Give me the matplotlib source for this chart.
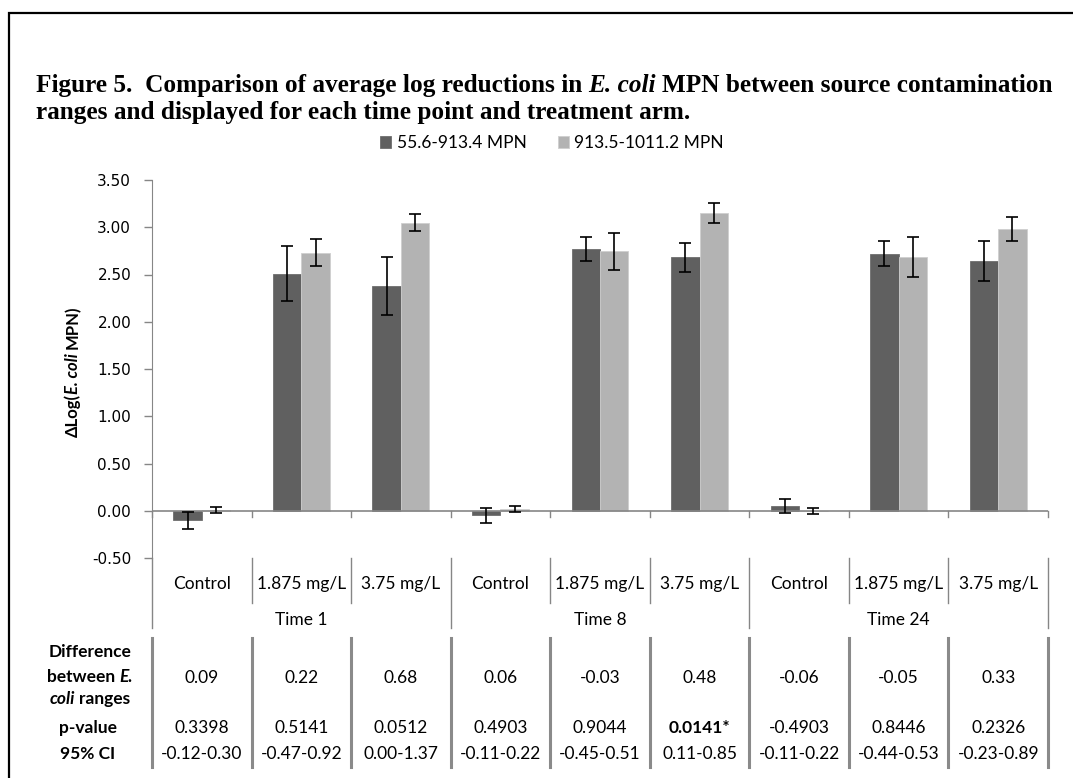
import matplotlib
matplotlib.use("Agg")
import matplotlib.pyplot as plt
from matplotlib.patches import Rectangle

# categories
groups = ["Time 1", "Time 8", "Time 24"]
doses = ["Control", "1.875 mg/L", "3.75 mg/L"]
series_names = ["55.6-913.4 MPN", "913.5-1011.2 MPN"]

# mean log reduction and error for each source range (9 bars each)
low_mean = [-0.10, 2.51, 2.38, -0.05, 2.77, 2.68, 0.05, 2.72, 2.64]
low_err = [0.09, 0.29, 0.31, 0.075, 0.125, 0.15, 0.07, 0.135, 0.21]
high_mean = [0.01, 2.73, 3.05, 0.02, 2.745, 3.15, 0.00, 2.685, 2.98]
high_err = [0.03, 0.145, 0.085, 0.03, 0.195, 0.105, 0.03, 0.21, 0.13]

# stats table under the chart
diff_vals = ["0.09", "0.22", "0.68", "0.06", "-0.03", "0.48", "-0.06", "-0.05", "0.33"]
p_vals = ["0.3398", "0.5141", "0.0512", "0.4903", "0.9044", "0.0141*", "-0.4903", "0.8446", "0.2326"]
ci_vals = ["-0.12-0.30", "-0.47-0.92", "0.00-1.37", "-0.11-0.22", "-0.45-0.51",
           "0.11-0.85", "-0.11-0.22", "-0.44-0.53", "-0.23-0.89"]
significant = [False, False, False, False, False, True, False, False, False]

W, H = 1073, 778
fig = plt.figure(figsize=(W / 100, H / 100), dpi=100)


def fx(px):
    return px / W


def fy(py):
    return 1 - py / H


renderer = fig.canvas.get_renderer()


def text_width(s, **kw):
    t = fig.text(0, 0, s, **kw)
    w = t.get_window_extent(renderer).width
    t.remove()
    return w


def rich_text(x, y, parts, align="center", rotation=0, **kw):
    # x, y in pixels from top-left, y is the baseline; parts = [(text, style)]
    space = text_width("a a", **kw) - text_width("aa", **kw)
    items = []
    for s, style in parts:
        core = s.strip(" ")
        lead = (len(s) - len(s.lstrip(" "))) * space
        trail = (len(s) - len(s.rstrip(" "))) * space
        items.append((lead, core, style, text_width(core, fontstyle=style, **kw), trail))
    total = sum(a + w + b for a, _, _, w, b in items)
    pos = -total / 2 if align == "center" else 0
    for lead, core, style, w, trail in items:
        pos += lead
        if rotation:
            fig.text(fx(x), fy(y - pos), core, rotation=rotation, rotation_mode="anchor",
                     ha="left", va="baseline", fontstyle=style, **kw)
        else:
            fig.text(fx(x + pos), fy(y), core, ha="left", va="baseline",
                     fontstyle=style, **kw)
        pos += w + trail


# outer frame (right and bottom run off the page)
fig.patches.append(Rectangle((fx(9), fy(800)), fx(1100), fy(13) - fy(800),
                             transform=fig.transFigure, fill=False,
                             edgecolor="black", linewidth=1.6))

# title
title_kw = dict(family="Liberation Serif", fontweight="bold", fontsize=18.2)
rich_text(36, 92, [("Figure 5.  Comparison of average log reductions in ", "normal"),
                   ("E. coli", "italic"),
                   (" MPN between source contamination", "normal")],
          align="left", **title_kw)
fig.text(fx(36), fy(119), "ranges and displayed for each time point and treatment arm.",
         ha="left", va="baseline", **title_kw)

# chart area
ax = fig.add_axes([fx(152), fy(558), fx(1048) - fx(152), fy(180) - fy(558)])
x = list(range(len(low_mean)))
bw = 0.286
dark, light = "#606060", "#b3b3b3"
b1 = ax.bar([i - bw / 2 for i in x], low_mean, bw, color=dark, edgecolor="#6e6e6e",
            linewidth=0.6, label=series_names[0])
b2 = ax.bar([i + bw / 2 for i in x], high_mean, bw, color=light, edgecolor="#cfcfcf",
            linewidth=0.6, label=series_names[1])
ax.errorbar([i - bw / 2 for i in x], low_mean, yerr=low_err, fmt="none", ecolor="black",
            elinewidth=1.2, capsize=4, capthick=1.2)
ax.errorbar([i + bw / 2 for i in x], high_mean, yerr=high_err, fmt="none", ecolor="black",
            elinewidth=1.2, capsize=4, capthick=1.2)

ax.set_xlim(-0.5, len(x) - 0.5)
ax.set_ylim(-0.5, 3.5)
ax.set_yticks([-0.5 + 0.5 * k for k in range(9)])
ax.set_yticklabels(["%.2f" % (-0.5 + 0.5 * k) for k in range(9)])
ax.set_xticks([])
for s in ["top", "right", "bottom"]:
    ax.spines[s].set_visible(False)
ax.spines["left"].set_color("#868686")
ax.tick_params(axis="y", length=6, width=1, color="#868686", pad=9,
               labelsize=11, labelcolor="black")
for lbl in ax.get_yticklabels():
    lbl.set_family("DejaVu Sans")
ax.axhline(0, color="#868686", linewidth=1.2, zorder=1)

# category axis: ticks, separators and labels
xt = ax.get_xaxis_transform()
y0 = 0.5 / 4.0
bounds = [b - 0.5 for b in range(len(x) + 1)]
grey = "#868686"
for k, b in enumerate(bounds):
    ax.plot([b, b], [y0, y0 - 6 / 378], color=grey, lw=1, transform=xt, clip_on=False)
    bottom = -70 / 378 if k % 3 == 0 else -45 / 378
    ax.plot([b, b], [0, bottom], color=grey, lw=1, transform=xt, clip_on=False)
    ax.plot([b, b], [-80 / 378, -209 / 378], color="#8a8a8a", lw=2.2, transform=xt,
            clip_on=False)

label_kw = dict(family="Lato", fontsize=12.5)
for i in x:
    ax.text(i, -31 / 378, doses[i % 3], ha="center", va="baseline", transform=xt, **label_kw)
for g, name in enumerate(groups):
    ax.text(3 * g + 1, -67 / 378, name, ha="center", va="baseline", transform=xt, **label_kw)

for i in x:
    ax.text(i, -125 / 378, diff_vals[i], ha="center", va="baseline", transform=xt, **label_kw)
    ax.text(i, -175 / 378, p_vals[i], ha="center", va="baseline", transform=xt,
            fontweight="bold" if significant[i] else "normal", **label_kw)
    ax.text(i, -201 / 378, ci_vals[i], ha="center", va="baseline", transform=xt, **label_kw)

# row labels of the table
row_kw = dict(family="Lato", fontsize=12.5, fontweight="bold")
rich_text(90, 657, [("Difference", "normal")], **row_kw)
rich_text(90, 682, [("between ", "normal"), ("E.", "italic")], **row_kw)
rich_text(90, 704, [("coli", "italic"), (" ranges", "normal")], **row_kw)
rich_text(88, 733, [("p-value", "normal")], **row_kw)
rich_text(88, 759, [("95% CI", "normal")], **row_kw)

# y axis title
rich_text(78, 371, [("\u0394Log(", "normal"), ("E. coli", "italic"), (" MPN)", "normal")],
          rotation=90, family="Lato", fontsize=12, fontweight="bold")

# legend
fig.legend(handles=[b1, b2], labels=series_names, loc="center", ncol=2,
           bbox_to_anchor=(fx(552), fy(143)), frameon=False, prop={"family": "Lato", "size": 12.5},
           handlelength=0.65, handleheight=0.65, handletextpad=0.3, columnspacing=1.8)

fig.savefig("out.png", dpi=100)
